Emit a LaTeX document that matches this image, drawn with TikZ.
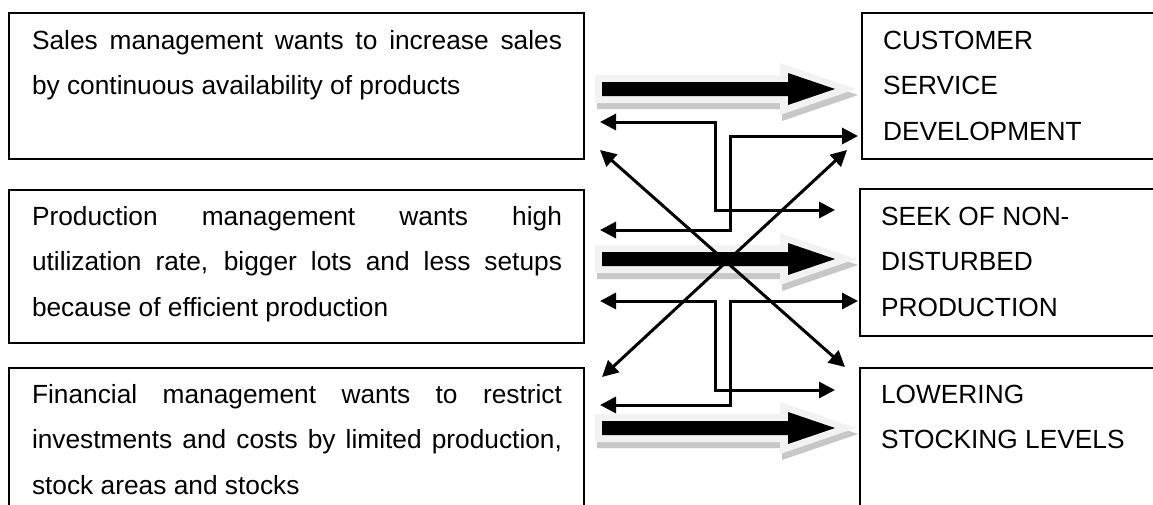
\documentclass[tikz,border=0pt]{standalone}
\usepackage{fontspec}
\setmainfont{Liberation Sans}
\usetikzlibrary{arrows.meta}

\tikzset{
  box/.style={draw=black, line width=1.8pt, inner sep=0pt, outer sep=0pt, anchor=north west},
  boxtext/.style={anchor=base west, inner sep=0pt, outer sep=0pt},
  conn/.style={line width=3pt, {Triangle[length=16pt,width=16pt]}-{Triangle[length=16pt,width=16pt]}},
  % block arrow with a light rim and a grey drop shadow
  fatarrow/.pic={
    \fill[black!22, shift={(2,6)}]
      (0,-14) -- (185,-14) -- (185,-26) -- (261,0) -- (185,26) -- (185,14) -- (0,14) -- cycle;
    \fill[black!5]
      (0,-14) -- (185,-14) -- (185,-26) -- (261,0) -- (185,26) -- (185,14) -- (0,14) -- cycle;
    \fill[black]
      (7,-7) -- (193,-7) -- (193,-16) -- (240,0) -- (193,16) -- (193,7) -- (7,7) -- cycle;
  }
}
\newcommand{\txtsize}{\fontsize{26.3}{45.8}\selectfont}
\newcommand{\jline}[1]{\makebox[\linewidth][s]{#1}}

\begin{document}
\begin{tikzpicture}[x=1pt, y=-1pt]
\useasboundingbox (0,0) rectangle (1153,504);
\fill[white] (0,0) rectangle (1153,504);
\clip (0,0) rectangle (1153,504);

% left-hand boxes: what each department wants
\node[box, minimum width=575pt, minimum height=146pt] (L1) at (9,13) {};
\node[box, minimum width=575pt, minimum height=153pt] (L2) at (9,190) {};
\node[box, minimum width=575pt, minimum height=160pt] (L3) at (9,368) {};

\node[boxtext] (L1t) at (32,49) {\parbox[t]{530pt}{\txtsize
  \jline{Sales management wants to increase sales}\\
  by continuous availability of products}};
\node[boxtext] (L2t) at (32,225) {\parbox[t]{530pt}{\txtsize
  \jline{Production management wants high}\\
  \jline{utilization rate, bigger lots and less setups}\\
  because of efficient production}};
\node[boxtext] (L3t) at (32,403) {\parbox[t]{530pt}{\txtsize
  \jline{Financial management wants to restrict}\\
  \jline{investments and costs by limited production,}\\
  stock areas and stocks}};

% right-hand boxes: resulting objectives
\node[box, minimum width=320pt, minimum height=146pt] (R1) at (862,13) {};
\node[box, minimum width=320pt, minimum height=147pt] (R2) at (860,189) {};
\node[box, minimum width=320pt, minimum height=160pt] (R3) at (860,368) {};

\node[boxtext] (R1t) at (883,49) {\parbox[t]{260pt}{\txtsize
  CUSTOMER\\SERVICE\\DEVELOPMENT}};
\node[boxtext] (R2t) at (881,225) {\parbox[t]{260pt}{\txtsize
  SEEK OF NON-\\DISTURBED\\PRODUCTION}};
\node[boxtext] (R3t) at (881,403) {\parbox[t]{270pt}{\txtsize
  LOWERING\\STOCKING LEVELS}};

% block arrows from each department to its objective
\pic at (595,89) {fatarrow};
\pic at (595,259) {fatarrow};
\pic at (595,428) {fatarrow};

% connector end points and the two vertical trunks
\coordinate (jl) at (715,0);
\coordinate (jr) at (730,0);
\coordinate (a1) at (600,122);
\coordinate (a2) at (835,210);
\coordinate (b1) at (600,230);
\coordinate (b2) at (858,136);
\coordinate (c1) at (600,150);
\coordinate (c2) at (845,367);
\coordinate (d1) at (847,150);
\coordinate (d2) at (602,377);
\coordinate (e1) at (600,301);
\coordinate (e2) at (835,390);
\coordinate (f1) at (858,301);
\coordinate (f2) at (600,405);

% conflicting relations between the departments and objectives
\draw[conn] (a1) -- (a1 -| jl) |- (a2);
\draw[conn] (b1) -- (b1 -| jr) |- (b2);
\draw[conn] (c1) -- (c2);
\draw[conn] (d1) -- (d2);
\draw[conn] (e1) -- (e1 -| jl) |- (e2);
\draw[conn] (f1) -- (f1 -| jr) |- (f2);
\end{tikzpicture}
\end{document}
